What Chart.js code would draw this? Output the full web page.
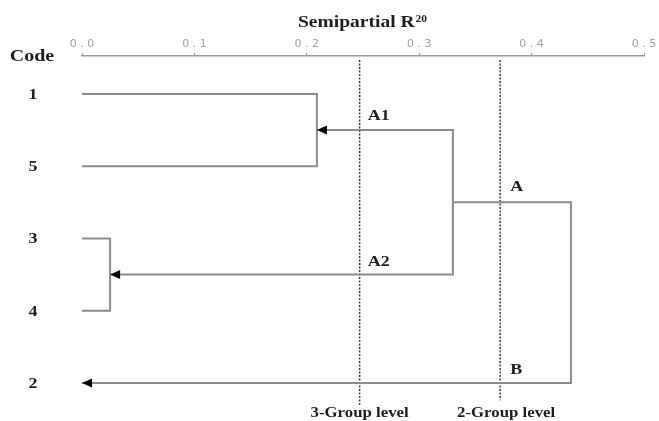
<!DOCTYPE html>
<html>
<head>
<meta charset="utf-8">
<script src="https://cdn.jsdelivr.net/npm/chart.js@4"></script>
<style>
  body { margin: 0; background: #fff; }
  canvas { display: block; }
</style>
</head>
<body>
<canvas id="dendro" width="659" height="421"></canvas>
<script>
// rows of the dendrogram, top to bottom
var codes = ['1', '5', '3', '4', '2'];
// semipartial R2 where clusters join
var join15 = 0.209;
var join34 = 0.025;
var joinA = 0.330;   // A1 + A2 -> A
var joinAB = 0.435;  // A + B
// cut levels (dotted lines)
var levelNames = ['3-Group level', '2-Group level'];
var levelValues = [0.247, 0.372];
var levelEnds = [4.30, 4.24];
var xTicks = [0, 0.1, 0.2, 0.3, 0.4, 0.5];

var grey = '#8c8c8c';

function path(pts, arrowStart, arrowEnd) {
  return {
    data: pts.map(function (p) { return { x: p[0], y: p[1] }; }),
    showLine: true,
    borderColor: grey,
    borderWidth: 2,
    pointRadius: 0,
    fill: false,
    clip: false,
    arrowStart: arrowStart,
    arrowEnd: arrowEnd
  };
}

var datasets = [
  path([[0, 0], [join15, 0], [join15, 1], [0, 1]]),
  path([[0, 2], [join34, 2], [join34, 3], [0, 3]]),
  path([[join15, 0.5], [joinA, 0.5], [joinA, 2.5], [join34, 2.5]], true, true),
  path([[joinA, 1.5], [joinAB, 1.5], [joinAB, 4], [0, 4]], false, true)
];
levelValues.forEach(function (v, i) {
  datasets.push({
    data: [{ x: v, y: -0.47 }, { x: v, y: levelEnds[i] }],
    showLine: true,
    borderColor: '#3a3a3a',
    borderWidth: 1.5,
    borderDash: [2, 1.5],
    pointRadius: 0,
    clip: false
  });
});

function stretchText(ctx, s, x, y, size, align, sx) {
  ctx.save();
  ctx.font = 'bold ' + size + 'px "Liberation Serif"';
  ctx.fillStyle = '#1e1e1e';
  ctx.textAlign = align;
  ctx.textBaseline = 'middle';
  ctx.translate(x, y);
  ctx.scale(sx, 1);
  ctx.fillText(s, 0, 0);
  var w = ctx.measureText(s).width * sx;
  ctx.restore();
  return w;
}

var decorations = {
  id: 'decorations',
  afterDatasetsDraw: function (chart) {
    var ctx = chart.ctx;
    // arrow heads
    chart.data.datasets.forEach(function (ds, i) {
      var pts = chart.getDatasetMeta(i).data;
      var ends = [];
      if (ds.arrowStart) ends.push([pts[0], pts[1]]);
      if (ds.arrowEnd) ends.push([pts[pts.length - 1], pts[pts.length - 2]]);
      ends.forEach(function (e) {
        var tip = e[0], from = e[1];
        var dir = from.x > tip.x ? 1 : -1;
        ctx.save();
        ctx.fillStyle = '#000';
        ctx.beginPath();
        ctx.moveTo(tip.x, tip.y);
        ctx.lineTo(tip.x + dir * 10, tip.y - 4.5);
        ctx.lineTo(tip.x + dir * 10, tip.y + 4.5);
        ctx.closePath();
        ctx.fill();
        ctx.restore();
      });
    });
  },
  afterDraw: function (chart) {
    var ctx = chart.ctx;
    var xs = chart.scales.x, ys = chart.scales.y;
    // title
    var w = stretchText(ctx, 'Semipartial R', 298, 23, 16, 'left', 1.22);
    stretchText(ctx, '20', 298 + w + 1, 19, 10, 'left', 1.15);
    // row labels
    stretchText(ctx, 'Code', 32, 57, 16, 'center', 1.25);
    codes.forEach(function (c, i) {
      stretchText(ctx, c, 33, ys.getPixelForValue(i) + 1, 15, 'center', 1.2);
    });
    // cluster names
    var lx1 = xs.getPixelForValue(levelValues[0]) + 8;
    var lx2 = xs.getPixelForValue(levelValues[1]) + 10;
    stretchText(ctx, 'A1', lx1, ys.getPixelForValue(0.5) - 14, 15, 'left', 1.2);
    stretchText(ctx, 'A2', lx1, ys.getPixelForValue(2.5) - 12, 15, 'left', 1.2);
    stretchText(ctx, 'A', lx2, ys.getPixelForValue(1.5) - 15, 15, 'left', 1.2);
    stretchText(ctx, 'B', lx2, ys.getPixelForValue(4) - 13, 15, 'left', 1.2);
    // level names
    levelNames.forEach(function (n, i) {
      var cx = xs.getPixelForValue(levelValues[i]) + (i === 1 ? 6 : 0);
      stretchText(ctx, n, cx, 413, 15, 'center', 1.12);
    });
  }
};

var ctx = document.getElementById('dendro').getContext('2d');
var chart = new Chart(ctx, {
  type: 'scatter',
  data: { datasets: datasets },
  options: {
    responsive: false,
    animation: false,
    layout: { padding: { left: 82, right: 15, top: 30, bottom: 10 } },
    plugins: { legend: { display: false }, tooltip: { enabled: false } },
    scales: {
      x: {
        type: 'linear',
        position: 'top',
        min: 0,
        max: 0.5,
        afterBuildTicks: function (s) {
          s.ticks = xTicks.map(function (v) { return { value: v }; });
        },
        afterFit: function (s) { s.height = 26; },
        ticks: {
          color: '#a0a0a0',
          padding: 2,
          font: { family: 'DejaVu Sans', size: 11 },
          callback: function (v) { return v.toFixed(1).split('').join(' '); }
        },
        grid: { drawOnChartArea: false, tickLength: 3, color: '#999', lineWidth: 1 },
        border: { display: true, color: '#999', width: 1.5 }
      },
      y: {
        type: 'linear',
        display: false,
        reverse: true,
        min: -0.526,
        max: 4.388
      }
    }
  },
  plugins: [decorations]
});
</script>
</body>
</html>
